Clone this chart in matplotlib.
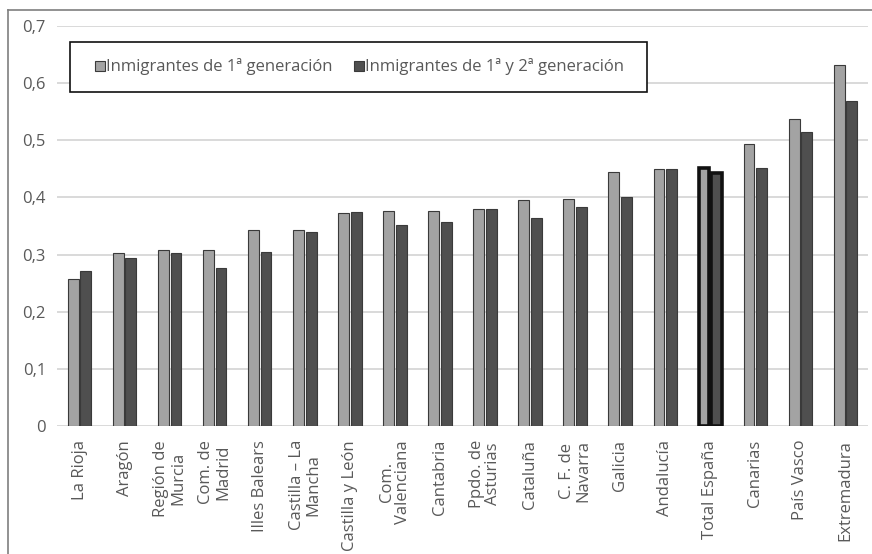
import matplotlib
matplotlib.use("Agg")
import matplotlib.pyplot as plt
import numpy as np
from matplotlib.lines import Line2D
from matplotlib.patches import Rectangle

categories = ["La Rioja", "Aragón", "Región de\nMurcia", "Com. de\nMadrid", "Illes Balears",
              "Castilla – La\nMancha", "Castilla y León", "Com.\nValenciana", "Cantabria",
              "Ppdo. de\nAsturias", "Cataluña", "C. F. de\nNavarra", "Galicia", "Andalucía",
              "Total España", "Canarias", "País Vasco", "Extremadura"]
gen1 = [0.257, 0.302, 0.308, 0.308, 0.343, 0.343, 0.372, 0.377, 0.377, 0.379,
        0.396, 0.398, 0.445, 0.449, 0.452, 0.493, 0.537, 0.631]
gen12 = [0.271, 0.294, 0.302, 0.276, 0.305, 0.340, 0.375, 0.352, 0.357, 0.379,
         0.364, 0.383, 0.400, 0.449, 0.443, 0.452, 0.515, 0.569]
series_names = ["Inmigrantes de 1ª generación", "Inmigrantes de 1ª y 2ª generación"]
yticks = [0, 0.1, 0.2, 0.3, 0.4, 0.5, 0.6, 0.7]
ytick_labels = ["0", "0,1", "0,2", "0,3", "0,4", "0,5", "0,6", "0,7"]
highlight = "Total España"

plt.rcParams['font.family'] = ['Open Sans', 'DejaVu Sans']
txt = '#595959'
c1 = '#a3a3a3'
c2 = '#4f4f4f'
edge = '#3a3a3a'
fs = 12

fig = plt.figure(figsize=(8.72, 5.54), dpi=100)
ax = fig.add_axes([57/872, 1-426/554, 811/872, 400/554])

x = np.arange(len(categories))
w = 0.24
off = 0.14
b1 = ax.bar(x - off, gen1, w, color=c1, edgecolor=edge, linewidth=0.8, zorder=3)
b2 = ax.bar(x + off, gen12, w, color=c2, edgecolor=edge, linewidth=0.8, zorder=3)
hi = categories.index(highlight)
for b in (b1[hi], b2[hi]):
    b.set_edgecolor('#111111')
    b.set_linewidth(2.6)

ax.set_xlim(-0.5, len(categories) - 0.5)
ax.set_ylim(0, 0.7)
ax.set_yticks(yticks)
ax.set_yticklabels(ytick_labels)
ax.yaxis.grid(True, color='#d9d9d9', linewidth=1.4, zorder=0)
ax.set_axisbelow(True)
for s in ax.spines.values():
    s.set_visible(False)
ax.tick_params(axis='y', length=0, pad=8, labelsize=fs, labelcolor=txt)
ax.tick_params(axis='x', length=0, pad=10, labelsize=fs, labelcolor=txt)
ax.set_xticks(x)
ax.set_xticklabels(categories, rotation=90, ha='center', va='top', multialignment='center',
                   linespacing=1.05)

# legend frame
ax.add_patch(Rectangle(((70-57)/811, 1-(92-26)/400), (647-70)/811, 50/400,
                       transform=ax.transAxes, facecolor='white', edgecolor='#111111',
                       linewidth=1.2, zorder=5, clip_on=False))
handles = [Line2D([], [], marker='s', linestyle='none', markersize=7, markerfacecolor=c1,
                  markeredgecolor=edge, markeredgewidth=0.8),
           Line2D([], [], marker='s', linestyle='none', markersize=7, markerfacecolor=c2,
                  markeredgecolor=edge, markeredgewidth=0.8)]
leg = ax.legend(handles, series_names, ncol=2, loc='center left',
                bbox_to_anchor=((95-57)/811, 1-(67-26)/400),
                fontsize=fs, labelcolor=txt, frameon=False,
                handlelength=0.55, handletextpad=0.1, columnspacing=1.3,
                borderpad=0, borderaxespad=0)
leg.set_zorder(6)

# outer chart border
fig.add_artist(Line2D([8/872, 1.0], [1-10/554, 1-10/554], transform=fig.transFigure,
                      color='#7f7f7f', linewidth=1.2))
fig.add_artist(Line2D([8/872, 8/872], [1-10/554, 0.0], transform=fig.transFigure,
                      color='#7f7f7f', linewidth=1.2))

fig.savefig("out.png", dpi=100)
